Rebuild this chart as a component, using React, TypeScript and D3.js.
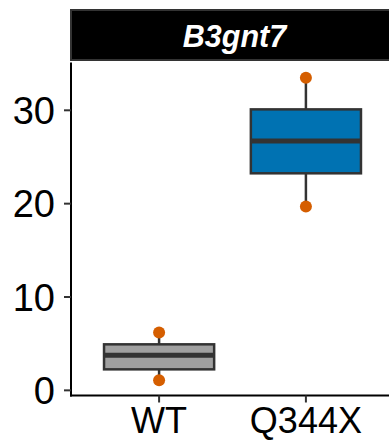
import React from "react";
import * as d3 from "d3";

const categories = ["WT", "Q344X"];
const mins = [1.07, 19.7];
const q1s = [2.25, 23.25];
const medians = [3.75, 26.7];
const q3s = [4.93, 30.1];
const maxs = [6.2, 33.5];
const fills = ["#A0A0A0", "#0072B2"];
const yTicks = [0, 10, 20, 30];
const title = "B3gnt7";

export default function App() {
  const W = 389, H = 441;
  const left = 71, right = 394, top = 62.5, bottom = 395.5;
  const lo = d3.min(mins)!, hi = d3.max(maxs)!;
  const pad = (hi - lo) * 0.05;
  const y = d3.scaleLinear().domain([lo - pad, hi + pad]).range([bottom, top]);
  const x = d3.scalePoint<string>().domain(categories).range([left, right]).padding(0.6);
  const bw = x.step() * 0.75;
  const font = "'Liberation Sans', Arial, sans-serif";
  return (
    <svg width={W} height={H} style={{ position: "absolute", left: 0, top: 0, background: "#fff" }} fontFamily={font}>
      {/* strip */}
      <rect x={left} y={10} width={right - left + 5} height={50} fill="#000" stroke="#333" strokeWidth={2} />
      <text x={(left + right) / 2 + 2} y={47} textAnchor="middle" fill="#fff" fontSize={30.5} fontWeight="bold" fontStyle="italic">{title}</text>
      {/* boxes */}
      {categories.map((c, i) => {
        const cx = x(c)!;
        return (
          <g key={c}>
            <line x1={cx} x2={cx} y1={y(maxs[i])} y2={y(q3s[i])} stroke="#333" strokeWidth={2.5} />
            <line x1={cx} x2={cx} y1={y(q1s[i])} y2={y(mins[i])} stroke="#333" strokeWidth={2.5} />
            <rect x={cx - bw / 2} y={y(q3s[i])} width={bw} height={y(q1s[i]) - y(q3s[i])} fill={fills[i]} stroke="#333" strokeWidth={2.5} />
            <line x1={cx - bw / 2} x2={cx + bw / 2} y1={y(medians[i])} y2={y(medians[i])} stroke="#333" strokeWidth={5} />
            <circle cx={cx} cy={y(maxs[i])} r={6} fill="#D55E00" />
            <circle cx={cx} cy={y(mins[i])} r={6} fill="#D55E00" />
          </g>
        );
      })}
      {/* axes */}
      <line x1={left} x2={left} y1={top} y2={bottom + 1} stroke="#000" strokeWidth={2} />
      <line x1={left - 1} x2={W} y1={bottom} y2={bottom} stroke="#000" strokeWidth={2} />
      {yTicks.map((t) => (
        <g key={t}>
          <line x1={left - 7} x2={left} y1={y(t)} y2={y(t)} stroke="#333" strokeWidth={2} />
          <text x={left - 16} y={y(t)} dy="0.36em" textAnchor="end" fontSize={38} fill="#000">{t}</text>
        </g>
      ))}
      {categories.map((c) => (
        <g key={c}>
          <line x1={x(c)!} x2={x(c)!} y1={bottom} y2={bottom + 7} stroke="#333" strokeWidth={2} />
          <text x={x(c)!} y={433} textAnchor="middle" fontSize={36} fill="#000">{c}</text>
        </g>
      ))}
    </svg>
  );
}
